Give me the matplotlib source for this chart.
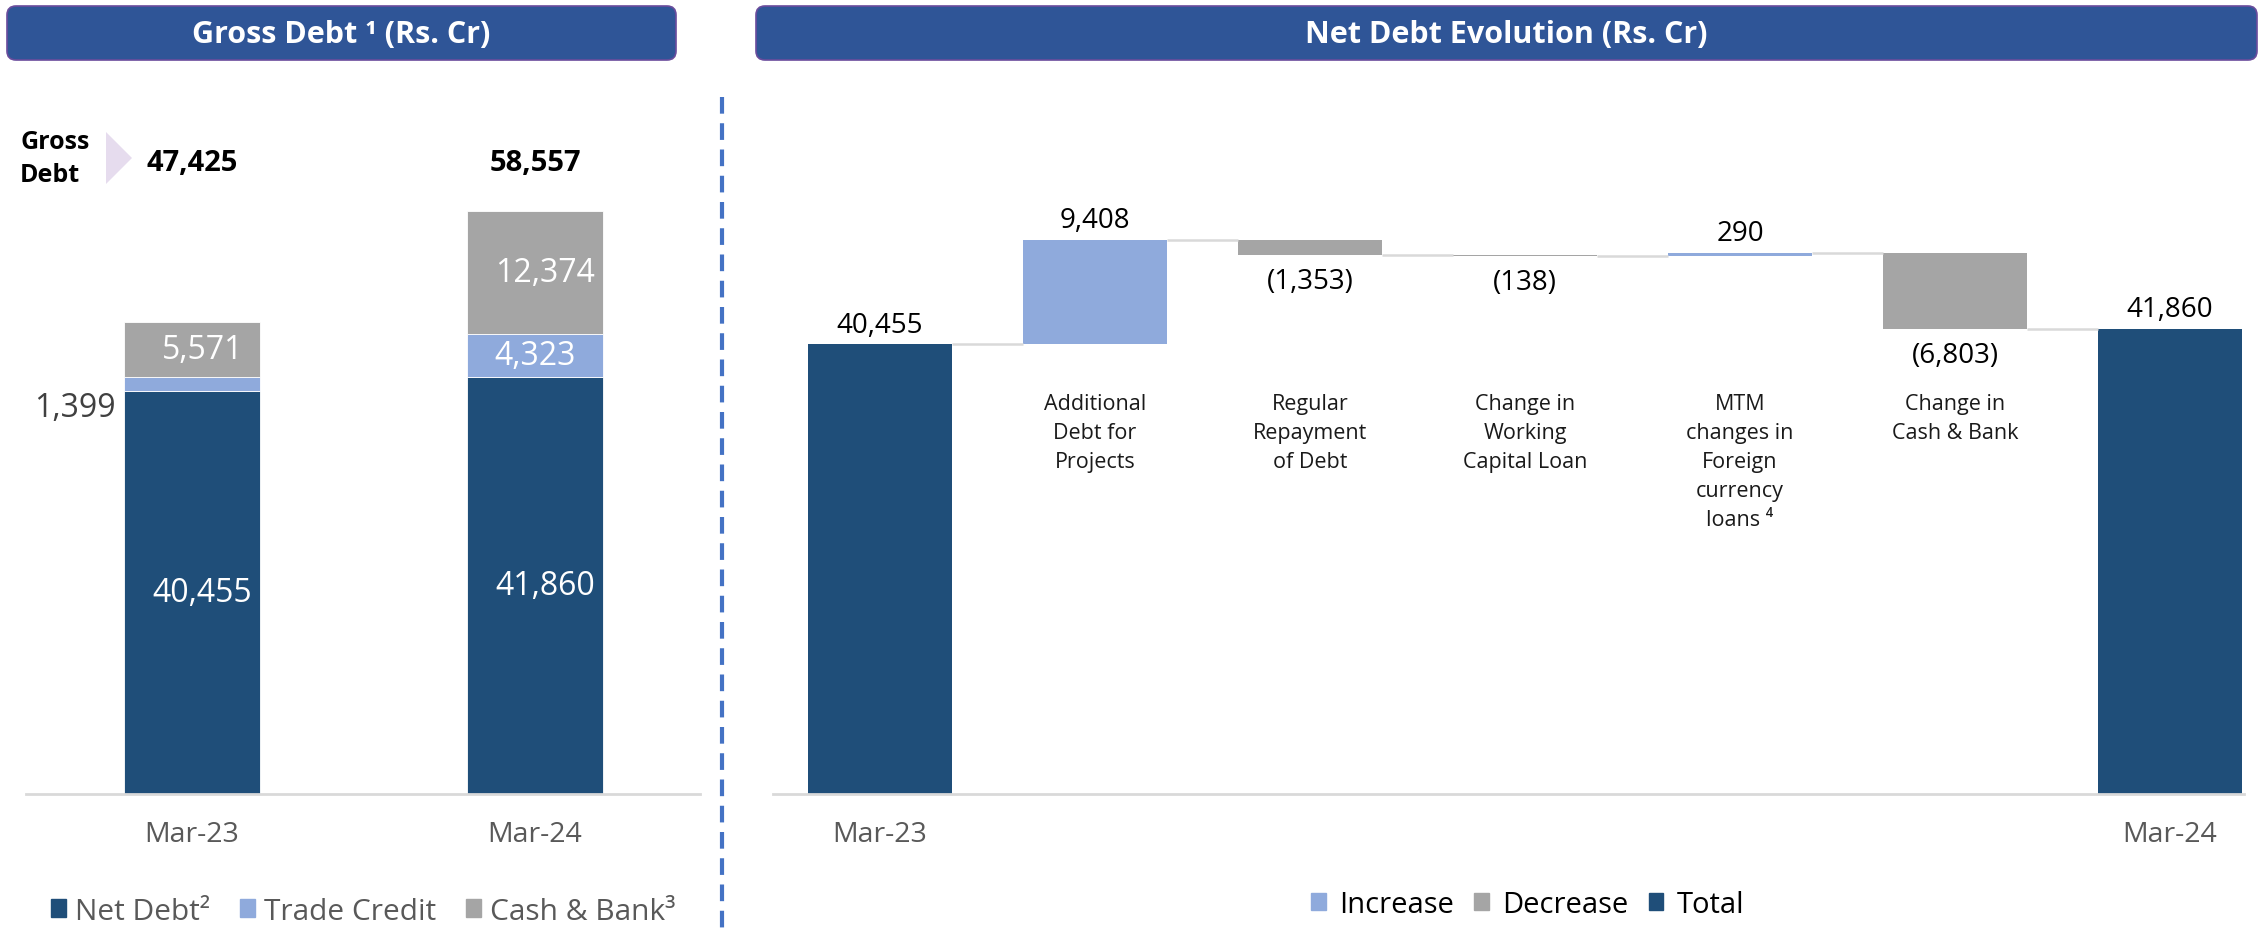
import numpy as np
import matplotlib
matplotlib.use("Agg")
import matplotlib.pyplot as plt
import matplotlib.transforms as mtransforms
from matplotlib.patches import Patch, FancyBboxPatch, Polygon

plt.rcParams['font.family'] = ['Open Sans', 'DejaVu Sans']

# --- Gross debt (left panel) ---
gross_periods = ['Mar-23', 'Mar-24']
net_debt = [40455, 41860]
trade_credit = [1399, 4323]
cash_bank = [5571, 12374]

# --- Net debt evolution (right panel) ---
wf_steps = ['Mar-23', 'Additional\nDebt for\nProjects', 'Regular\nRepayment\nof Debt',
            'Change in\nWorking\nCapital Loan', 'MTM\nchanges in\nForeign\ncurrency\nloans \u2074',
            'Change in\nCash & Bank', 'Mar-24']
wf_values = [40455, 9408, -1353, -138, 290, -6803, 41860]
wf_kinds = ['total', 'step', 'step', 'step', 'step', 'step', 'total']

NAVY = '#1F4E79'
LIGHT = '#8FAADC'
GREY = '#A5A5A5'
RULE = '#D9D9D9'
HEADER = '#2F5597'

W, H = 2266, 937
fig = plt.figure(figsize=(W / 100, H / 100), dpi=100)


def px_box(x0, y0, x1, y1):
    # pixel box (top-left origin) -> figure fraction rect
    return [x0 / W, 1 - y1 / H, (x1 - x0) / W, (y1 - y0) / H]


def clean(ax):
    for s in ['top', 'left', 'right']:
        ax.spines[s].set_visible(False)
    ax.spines['bottom'].set_color(RULE)
    ax.spines['bottom'].set_linewidth(2)
    ax.set_yticks([])
    ax.tick_params(axis='x', length=0, labelsize=20.5, labelcolor='#595959', pad=19)


# ---------------- left: stacked bars ----------------
ax1 = fig.add_axes(px_box(26, 98, 700, 795))
x = np.arange(len(gross_periods))
bw = 0.397
mid = np.add(net_debt, trade_credit)
ax1.bar(x, net_debt, width=bw, color=NAVY, edgecolor='white', linewidth=0.6)
ax1.bar(x, trade_credit, width=bw, bottom=net_debt, color=LIGHT, edgecolor='white', linewidth=0.6)
ax1.bar(x, cash_bank, width=bw, bottom=mid, color=GREY, edgecolor='white', linewidth=0.6)
ax1.set_xlim(-0.484, 1.481)
ax1.set_ylim(0, 70000)
ax1.set_xticks(x, gross_periods)
clean(ax1)

blend1 = mtransforms.blended_transform_factory(ax1.transData, ax1.transAxes)
for i in range(len(x)):
    ax1.text(i + 0.03, net_debt[i] / 2, f'{net_debt[i]:,}', ha='center', va='center',
             color='white', fontsize=23)
    ax1.text(i + 0.03, mid[i] + cash_bank[i] / 2, f'{cash_bank[i]:,}', ha='center', va='center',
             color='white', fontsize=23)
    if trade_credit[i] < 2500:
        ax1.annotate(f'{trade_credit[i]:,}', (i - bw / 2, net_debt[i] + trade_credit[i] / 2),
                     xytext=(-6, -17), textcoords='offset points', ha='right', va='center',
                     color='#404040', fontsize=23)
    else:
        ax1.text(i, net_debt[i] + trade_credit[i] / 2, f'{trade_credit[i]:,}', ha='center',
                 va='center', color='white', fontsize=23)
    total = mid[i] + cash_bank[i]
    ax1.text(i, 0.906, f'{total:,}', transform=blend1, ha='center', va='center',
             fontsize=21, fontweight='bold', color='black')

ax1.legend(handles=[Patch(color=NAVY), Patch(color=LIGHT), Patch(color=GREY)],
           labels=['Net Debt\u00b2', 'Trade Credit', 'Cash & Bank\u00b3'],
           loc='center', bbox_to_anchor=(0.5, -0.168), ncol=3, frameon=False,
           fontsize=21.5, labelcolor='#595959', handlelength=0.5, handleheight=0.5,
           handletextpad=0.3, columnspacing=1.0)

# ---------------- right: waterfall ----------------
ax2 = fig.add_axes(px_box(773, 98, 2244, 795))
xw = np.arange(len(wf_values))
ww = 0.67
bottoms, heights, colors, tops = [], [], [], []
running = 0
for v, k in zip(wf_values, wf_kinds):
    if k == 'total':
        bottoms.append(0)
        heights.append(v)
        colors.append(NAVY)
        running = v
    elif v >= 0:
        bottoms.append(running)
        heights.append(v)
        colors.append(LIGHT)
        running += v
    else:
        bottoms.append(running + v)
        heights.append(-v)
        colors.append(GREY)
        running += v
    tops.append(running)

ax2.bar(xw, heights, bottom=bottoms, width=ww, color=colors)
for i in range(len(xw) - 1):
    ax2.plot([i + ww / 2, i + 1 - ww / 2], [tops[i], tops[i]], color=RULE, lw=1.8,
             solid_capstyle='butt')

for i, v in enumerate(wf_values):
    if v >= 0:
        ax2.annotate(f'{v:,}', (i, bottoms[i] + heights[i]), xytext=(0, 14),
                     textcoords='offset points', ha='center', va='center',
                     fontsize=20, color='black')
    else:
        ax2.annotate(f'({-v:,})', (i, bottoms[i]), xytext=(0, -19),
                     textcoords='offset points', ha='center', va='center',
                     fontsize=20, color='black')

blend2 = mtransforms.blended_transform_factory(ax2.transData, ax2.transAxes)
for i, (lab, k) in enumerate(zip(wf_steps, wf_kinds)):
    if k != 'total':
        ax2.text(i, 0.576, lab, transform=blend2, ha='center', va='top', fontsize=15.5,
                 color='#1A1A1A', linespacing=1.5)

ax2.set_xlim(-0.498, 6.344)
ax2.set_ylim(0, 62680)
ax2.set_xticks([0, len(xw) - 1], [wf_steps[0], wf_steps[-1]])
clean(ax2)

ax2.legend(handles=[Patch(color=LIGHT), Patch(color=GREY), Patch(color=NAVY)],
           labels=['Increase', 'Decrease', 'Total'], loc='center',
           bbox_to_anchor=(0.513, -0.158), ncol=3, frameon=False, fontsize=21,
           handlelength=0.5, handleheight=0.5, handletextpad=0.45, columnspacing=0.7)

# ---------------- overlay: headers, divider, gross label ----------------
ov = fig.add_axes([0, 0, 1, 1])
ov.set_xlim(0, W)
ov.set_ylim(H, 0)
ov.axis('off')

for x0, x1, title in [(7, 676, 'Gross Debt \u00b9 (Rs. Cr)'),
                      (756, 2257, 'Net Debt Evolution (Rs. Cr)')]:
    ov.add_patch(FancyBboxPatch((x0, 7), x1 - x0, 54,
                                boxstyle='round,pad=0,rounding_size=9',
                                fc=HEADER, ec='#6A4C9C', lw=1.2))
    ov.text((x0 + x1) / 2, 35, title, ha='center', va='center', color='white',
            fontsize=22, fontweight='bold')

ov.plot([722, 722], [98, 932], color='#4472C4', lw=3, ls=(0, (4, 2.3)))

ov.add_patch(Polygon([[106, 133], [132, 159], [106, 185]], closed=True,
                     fc='#E6DCEE', ec='none'))
ov.text(20, 159, 'Gross\nDebt', ha='left', va='center', fontsize=18,
        fontweight='bold', color='black', linespacing=1.45)

fig.savefig('out.png', dpi=100)
